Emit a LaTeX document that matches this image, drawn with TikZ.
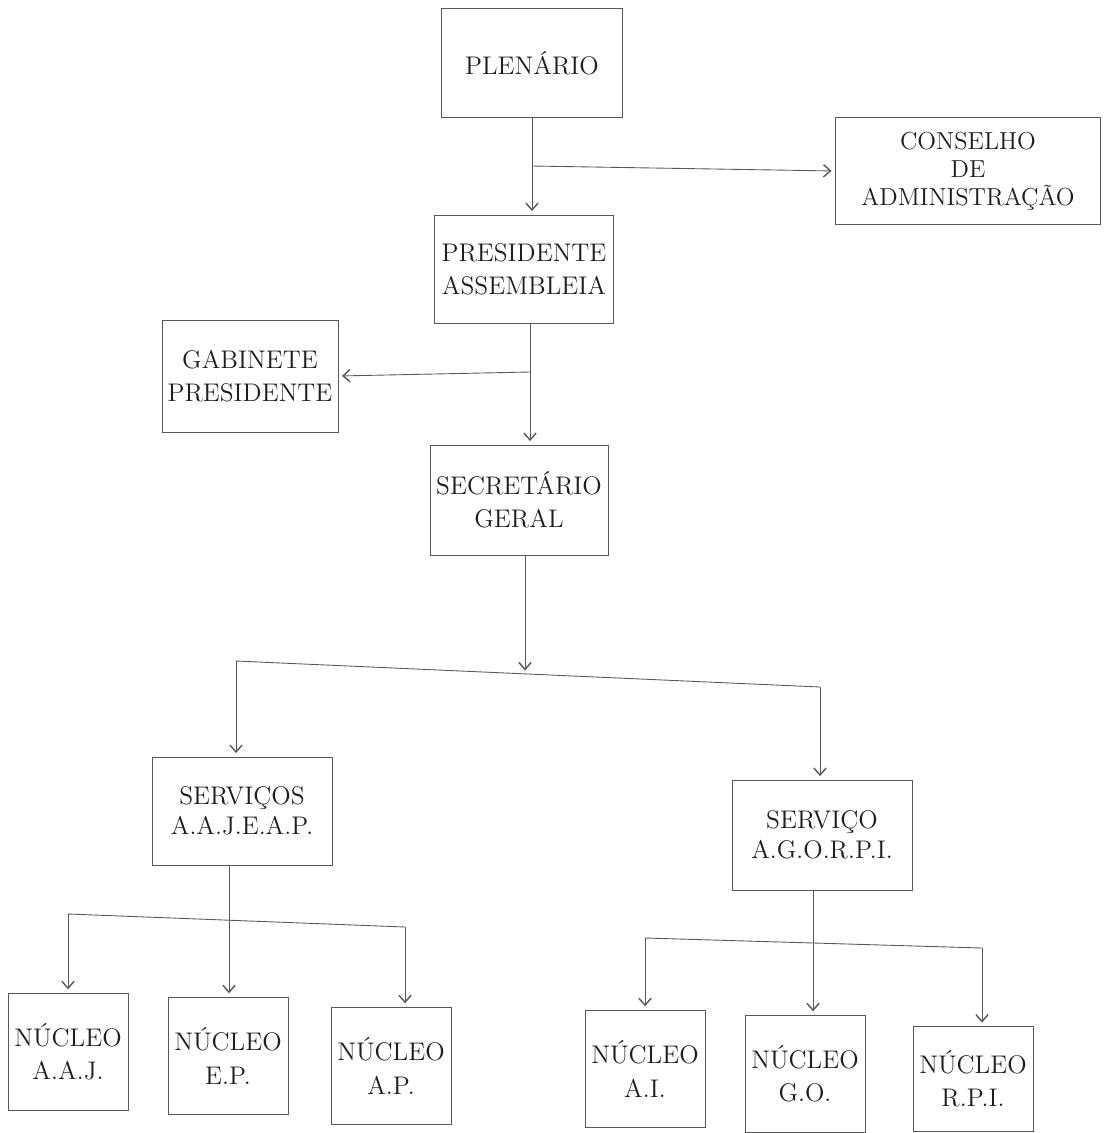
\documentclass[tikz,border=0pt]{standalone}
\usepackage{fontspec}
\usetikzlibrary{arrows.meta}
\definecolor{linha}{HTML}{585858}
\definecolor{texto}{HTML}{1e1e1e}
\begin{document}
\begin{tikzpicture}[x=0.02cm, y=-0.02cm,
		caixa/.style 2 args={draw=linha, line width=0.5pt, text=texto, align=center, inner sep=0pt,
			minimum width=#1, minimum height=#2, font=\fontsize{14.5}{19}\selectfont},
		nucleo/.style={caixa={2.4cm}{2.35cm}},
		seta/.style={draw=linha, line width=0.5pt, -{Straight Barb[length=4pt,width=7pt,line width=0.8pt]}, shorten >=2pt},
		ligacao/.style={draw=linha, line width=0.5pt}]
	\useasboundingbox[fill=white] (0,0) rectangle (1104,1133);
		%Caixas de cima
	\node[caixa={3.62cm}{2.18cm}] (plen) at (532,63) {PLENÁRIO};
	\node[caixa={5.3cm}{2.14cm}, font=\fontsize{14}{16}\selectfont] (cons) at (968,171) {CONSELHO\\DE\\ADMINISTRAÇÃO};
	\node[caixa={3.58cm}{2.16cm}] (pres) at (524,269) {PRESIDENTE\\ASSEMBLEIA};
	\node[caixa={3.52cm}{2.24cm}] (gab) at (250,376) {GABINETE\\PRESIDENTE};
	\node[caixa={3.56cm}{2.2cm}] (sec) at (519,500) {SECRETÁRIO\\GERAL};
		%Serviços
	\node[caixa={3.6cm}{2.16cm}, font=\fontsize{14.5}{17}\selectfont] (serva) at (242,811) {SERVIÇOS\\A.A.J.E.A.P.};
	\node[caixa={3.6cm}{2.2cm}, font=\fontsize{14.5}{17}\selectfont] (servb) at (822,835) {SERVIÇO\\A.G.O.R.P.I.};
		%Núcleos
	\node[nucleo] (aaj) at (68,1052) {NÚCLEO\\A.A.J.};
	\node[nucleo] (ep) at (228,1056) {NÚCLEO\\E.P.};
	\node[nucleo] (ap) at (391,1066) {NÚCLEO\\A.P.};
	\node[nucleo] (ai) at (645,1069) {NÚCLEO\\A.I.};
	\node[nucleo] (go) at (805,1074) {NÚCLEO\\G.O.};
	\node[caixa={2.4cm}{2.1cm}] (rpi) at (973,1079) {NÚCLEO\\R.P.I.};
		%Plenário, conselho e presidente
	\coordinate (r1) at (532,166);
	\draw[seta] (plen.south) -- (plen.south |- pres.north);
	\draw[seta] (r1) -- (cons.west);
	\coordinate (r2) at (530,372);
	\draw[seta] (r2 |- pres.south) -- (r2 |- sec.north);
	\draw[seta] (r2) -- (gab.east);
		%Secretário para os serviços
	\coordinate (b1) at (236,661);
	\coordinate (b2) at (820,687);
	\coordinate (b0) at (525,674);
	\draw[seta] (b0 |- sec.south) -- (b0);
	\draw[ligacao] (b1) -- (b2);
	\draw[seta] (b1) -- (b1 |- serva.north);
	\draw[seta] (b2) -- (b2 |- servb.north);
		%Serviços A.A.J.E.A.P. para os núcleos
	\coordinate (c1) at (68,914);
	\coordinate (c0) at (229,920);
	\coordinate (c2) at (405,927);
	\draw[ligacao] (c0 |- serva.south) -- (c0);
	\draw[ligacao] (c1) -- (c2);
	\draw[seta] (c1) -- (c1 |- aaj.north);
	\draw[seta] (c0) -- (c0 |- ep.north);
	\draw[seta] (c2) -- (c2 |- ap.north);
		%Serviço A.G.O.R.P.I. para os núcleos
	\coordinate (d1) at (645,938);
	\coordinate (d0) at (813,943);
	\coordinate (d2) at (982,948);
	\draw[ligacao] (d0 |- servb.south) -- (d0);
	\draw[ligacao] (d1) -- (d2);
	\draw[seta] (d1) -- (d1 |- ai.north);
	\draw[seta] (d0) -- (d0 |- go.north);
	\draw[seta] (d2) -- (d2 |- rpi.north);
\end{tikzpicture}
\end{document}
